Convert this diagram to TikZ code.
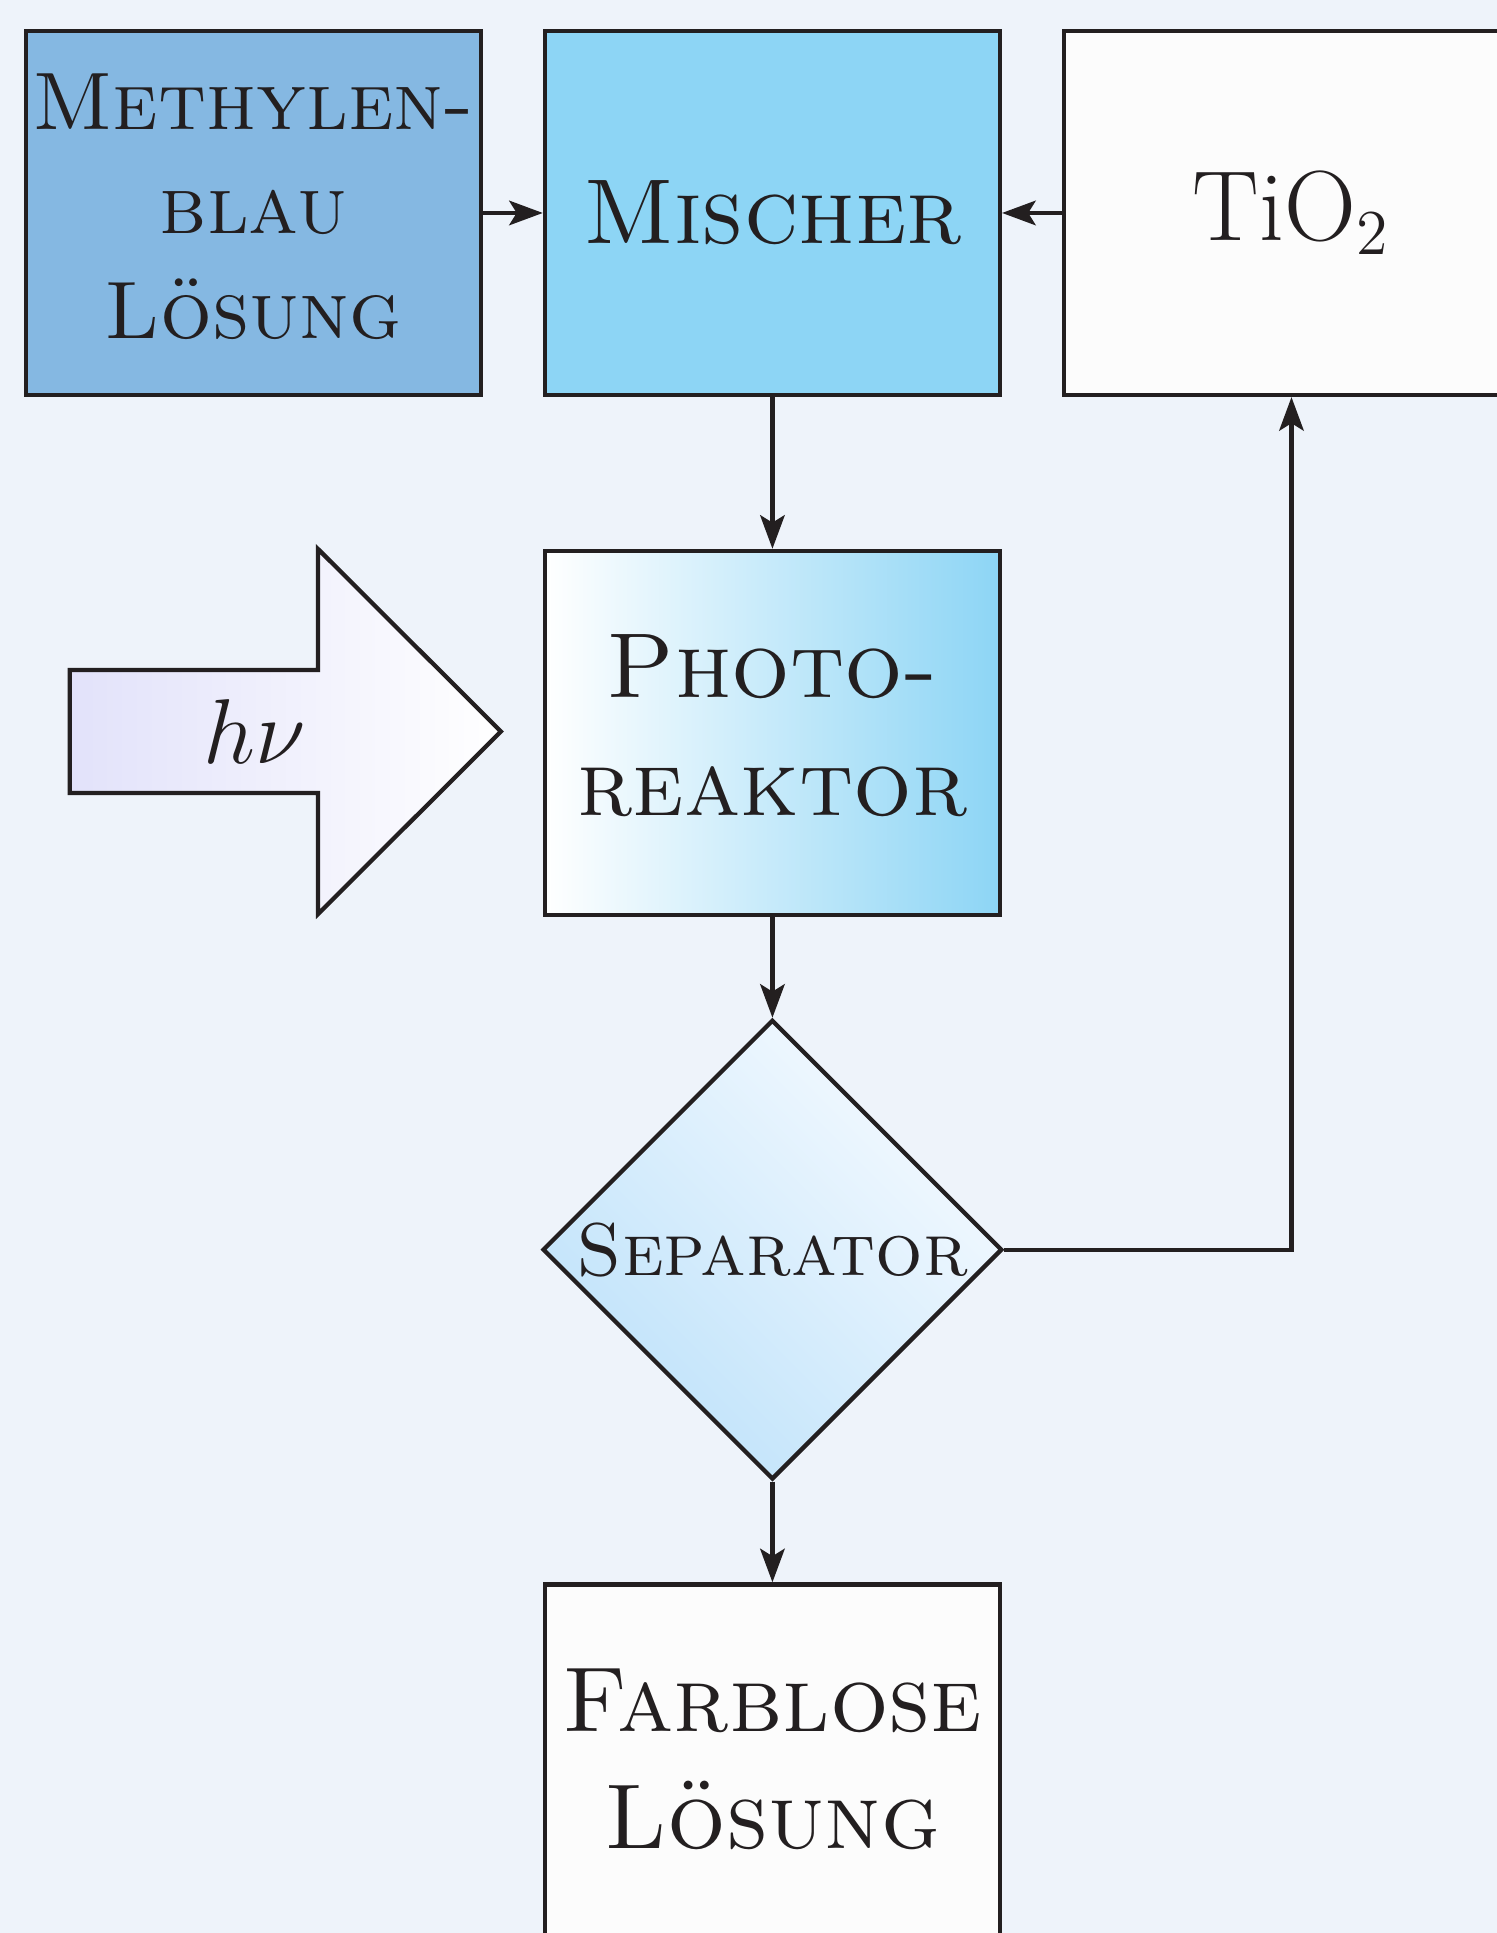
\documentclass[tikz,border=0pt]{standalone}
\usepackage{tikz}
\usetikzlibrary{arrows.meta,shapes.geometric,matrix,positioning}
\usepackage{amsmath,amssymb}
\usepackage{color}

\definecolor{hintergrund}{HTML}{EEF3FA}
\definecolor{tinte}{HTML}{231F20}
\definecolor{methylenblau}{HTML}{85B8E2}
\definecolor{mischblau}{HTML}{8DD5F5}
\definecolor{fastweiss}{HTML}{FCFCFC}
\definecolor{sepdunkel}{HTML}{BEE2FA}
\definecolor{sephell}{HTML}{F5FAFF}
\definecolor{lichtlila}{HTML}{E2E2FA}

\newcommand{\zeilen}[1]{\begin{tabular}{@{}c@{}}#1\end{tabular}}

\begin{document}
\begin{tikzpicture}[>={Stealth[length=6.3pt,width=4.6pt,inset=1.4pt]},thick,color=tinte,
    kasten/.style={draw=tinte,rectangle,minimum width=3cm,minimum height=2.4cm,inner sep=1pt,font=\LARGE\scshape},
    raute/.style={draw=tinte,diamond,minimum size=3.03cm,inner sep=0pt,font=\fontsize{14}{17}\selectfont\scshape,left color=sepdunkel,right color=sephell,shading angle=135}]
\clip (0,0) rectangle (9.870,-12.745);
\fill[hintergrund] (0,0) rectangle (9.870,-12.745);

\matrix(m)[matrix of nodes,column sep=0.385cm,row sep=0.67cm,nodes={anchor=center},matrix anchor=m-1-2.center] at (5.093,-1.404) {
    |[kasten,fill=methylenblau,inner sep=0.5pt,font=\fontsize{15.3}{19.6}\selectfont\scshape]| \zeilen{Methylen-\\blau\\Lösung} & |[kasten,fill=mischblau]| Mischer & |[kasten,fill=fastweiss,font=\fontsize{18.7}{22}\selectfont]| TiO$_2$ \\[0.33cm]
    & |[kasten,left color=white,right color=mischblau]| \zeilen{Photo-\\reaktor} & \\
    & |[raute]| Separator & \\
    & |[kasten,fill=fastweiss]| \zeilen{Farblose\\Lösung} & \\
};

% Licht
\shade[draw=tinte,left color=lichtlila,right color=white]
(0.46,-4.418) -- (2.097,-4.418) -- (2.097,-3.62) -- (3.303,-4.823)
-- (2.097,-6.026) -- (2.097,-5.228) -- (0.46,-5.228) -- cycle;
\node[font=\LARGE] (licht) at (1.68,-4.82) {$h\nu$};

\draw[->]
(m-1-1)edge(m-1-2)
(m-1-3)edge(m-1-2)
(m-1-2)edge(m-2-2)
(m-2-2)edge(m-3-2)
(m-3-2)edge(m-4-2)
;
\draw[->] (m-3-2.east) -| (m-1-3.south);

\end{tikzpicture}
\end{document}
